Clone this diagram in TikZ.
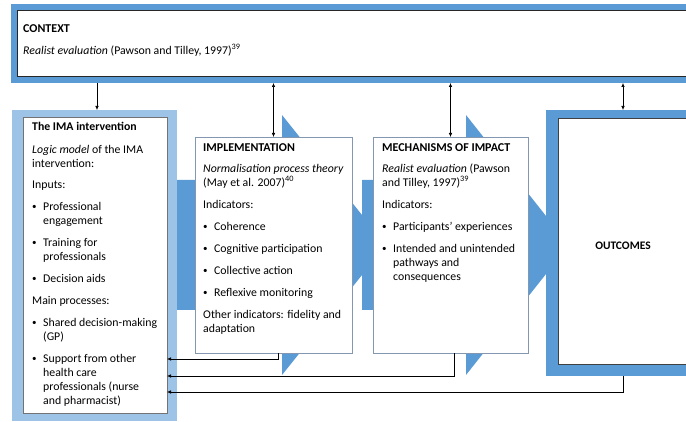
\documentclass[tikz,border=0pt]{standalone}
\usepackage{fontspec}
\setmainfont{Carlito}
\usepackage{tikz}
\usetikzlibrary{arrows.meta, positioning}

\definecolor{accblue}{HTML}{5B9BD5}
\definecolor{paleblue}{HTML}{9DC3E6}
\definecolor{framegray}{HTML}{8497B0}

\newcommand{\bulit}{\makebox[11pt][l]{\raisebox{0.6pt}{\fontsize{9}{9}\selectfont\textbullet}}}
\newcommand{\bulgap}{\hspace*{11pt}}

\tikzset{
  frame/.style={anchor=north west, inner sep=0pt, outer sep=0pt},
  panel/.style={frame, draw=framegray, fill=white, line width=0.7pt},
  txt/.style={anchor=north west, inner sep=0pt, align=left, font=\fontsize{11.8}{14}\selectfont},
  head/.style={font=\fontsize{12}{14}\selectfont\bfseries},
  link/.style={-{Latex[length=4pt,width=3.5pt]}, line width=0.6pt},
  twoway/.style={{Latex[length=4pt,width=3.5pt]}-{Latex[length=4pt,width=3.5pt]}, line width=0.6pt},
}
\newcommand{\headtxt}[1]{{\fontsize{12}{14}\selectfont\bfseries #1}}

\begin{document}
\begin{tikzpicture}[x=1pt, y=-1pt]
\useasboundingbox (0,0) rectangle (686,422);

% Context band
\node[frame, fill=accblue, minimum width=689pt, minimum height=79pt] (ctx) at (11,4) {};
\node[frame, draw=black!85, fill=white, line width=0.7pt, minimum width=683pt, minimum height=66pt] (ctxin) at (17,10) {};
\node[txt] (ctxtxt) at (23,24) {\headtxt{CONTEXT}\\[8pt]
  \textit{Realist evaluation} (Pawson and Tilley, 1997)\textsuperscript{39}};

% Big blue arrows
\fill[accblue] (170,180) -- (282,180) -- (282,115) -- (386,245) -- (282,375) -- (282,310) -- (170,310) -- cycle;
\fill[accblue] (362,180) -- (466,180) -- (466,115) -- (569,245) -- (466,375) -- (466,310) -- (362,310) -- cycle;

% The IMA intervention
\node[frame, fill=paleblue, minimum width=165pt, minimum height=311pt] (imaout) at (12,110) {};
\node[frame, draw=black!55, fill=white, line width=0.7pt, minimum width=144pt, minimum height=296pt] (ima) at (23,117) {};
\node[txt] (imatxt) at (32,122) {{\bfseries The IMA intervention}\\[9pt]
  \textit{Logic model} of the IMA\\
  intervention:\\[7pt]
  Inputs:\\[8pt]
  \bulit Professional\\
  \bulgap engagement\\[8pt]
  \bulit Training for\\
  \bulgap professionals\\[8pt]
  \bulit Decision aids\\[8pt]
  Main processes:\\[8pt]
  \bulit Shared decision-making\\
  \bulgap (GP)\\[8pt]
  \bulit Support from other\\
  \bulgap health care\\
  \bulgap professionals (nurse\\
  \bulgap and pharmacist)};

% Implementation
\node[panel, minimum width=157pt, minimum height=216pt] (impl) at (195,137) {};
\node[txt] (impltxt) at (203,143) {\headtxt{IMPLEMENTATION}\\[7pt]
  \textit{Normalisation process theory}\\
  (May et al. 2007)\textsuperscript{40}\\[8pt]
  Indicators:\\[8pt]
  \bulit Coherence\\[8pt]
  \bulit Cognitive participation\\[8pt]
  \bulit Collective action\\[8pt]
  \bulit Reflexive monitoring\\[8pt]
  Other indicators: fidelity and\\
  adaptation};

% Mechanisms of impact
\node[panel, minimum width=155pt, minimum height=216pt] (mech) at (373,137) {};
\node[txt] (mechtxt) at (382,143) {\headtxt{MECHANISMS OF IMPACT}\\[7pt]
  \textit{Realist evaluation} (Pawson\\
  and Tilley, 1997)\textsuperscript{39}\\[8pt]
  Indicators:\\[8pt]
  \bulit Participants' experiences\\[8pt]
  \bulit Intended and unintended\\
  \bulgap pathways and\\
  \bulgap consequences};

% Outcomes
\node[frame, fill=accblue, minimum width=154pt, minimum height=266pt] (outc) at (546,110) {};
\node[frame, draw=black!75, fill=white, line width=0.7pt, minimum width=130pt, minimum height=246pt] (outcin) at (558,118) {};
\node[font=\fontsize{11.5}{14}\selectfont\bfseries] (outlbl) at (623,246) {OUTCOMES};

% Links with the context
\draw[link] ([xshift=2.5pt]ctx.south -| imaout.north) -- ([xshift=2.5pt]imaout.north);
\foreach \b in {impl, mech, outc} {
  \draw[twoway] (ctx.south -| \b.north) -- (\b.north);
}

% Feedback to the intervention
\coordinate (fbA) at (0,359);
\coordinate (fbB) at (0,376);
\coordinate (fbC) at (0,392);
\draw[link] ([xshift=5pt]impl.south) |- (ima.east |- fbA);
\draw[link] ([xshift=4pt]mech.south) |- (ima.east |- fbB);
\draw[link] (outc.south) |- (ima.east |- fbC);
\end{tikzpicture}
\end{document}
